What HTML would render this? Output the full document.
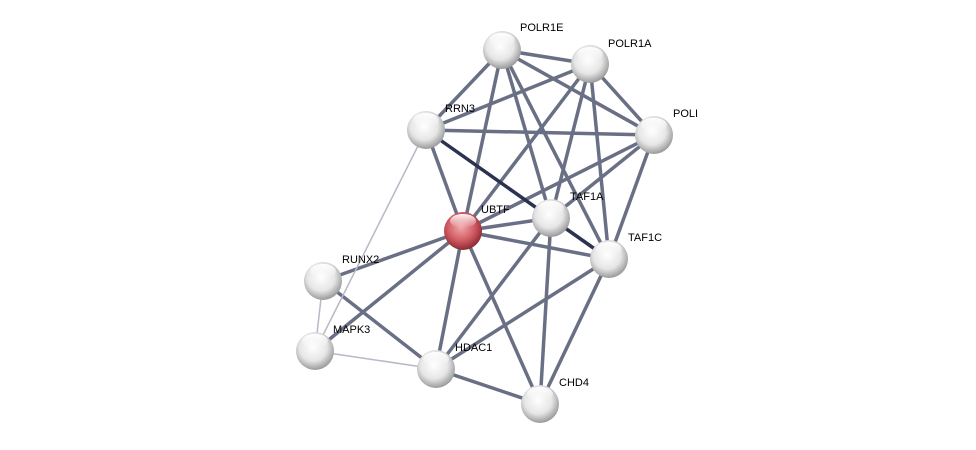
<!DOCTYPE html>
<html><head><meta charset="utf-8"><style>
html,body{margin:0;padding:0;background:#fff;}
svg{display:block;}
text{font-family:"Liberation Sans",Arial,sans-serif;font-size:11px;fill:#000;}
</style></head><body>
<svg width="976" height="450" viewBox="0 0 976 450" xmlns="http://www.w3.org/2000/svg">
<defs>
<radialGradient id="g" cx="45%" cy="40%" r="60%">
<stop offset="0" stop-color="#ffffff"/><stop offset="0.6" stop-color="#e6e6e6"/><stop offset="1" stop-color="#9a9a9a"/>
</radialGradient>
<radialGradient id="r" cx="45%" cy="40%" r="60%">
<stop offset="0" stop-color="#f2a8ac"/><stop offset="0.6" stop-color="#d05a62"/><stop offset="1" stop-color="#8c2a32"/>
</radialGradient>
<linearGradient id="hl" x1="0" y1="0" x2="0" y2="1">
<stop offset="0" stop-color="#fff" stop-opacity="0.95"/><stop offset="1" stop-color="#fff" stop-opacity="0"/>
</linearGradient>
</defs>
<g stroke="#50566f" stroke-width="3.5" stroke-linecap="round" opacity="0.85">
<line x1="502" y1="50" x2="426" y2="130"/>
<line x1="502" y1="50" x2="654" y2="135"/>
<line x1="502" y1="50" x2="463" y2="231"/>
<line x1="502" y1="50" x2="551" y2="218"/>
<line x1="502" y1="50" x2="609" y2="259"/>
<line x1="502" y1="50" x2="590" y2="64"/>
<line x1="590" y1="64" x2="426" y2="130"/>
<line x1="590" y1="64" x2="463" y2="231"/>
<line x1="590" y1="64" x2="551" y2="218"/>
<line x1="590" y1="64" x2="609" y2="259"/>
<line x1="590" y1="64" x2="654" y2="135"/>
<line x1="426" y1="130" x2="654" y2="135"/>
<line x1="426" y1="130" x2="463" y2="231"/>
<line x1="654" y1="135" x2="463" y2="231"/>
<line x1="654" y1="135" x2="551" y2="218"/>
<line x1="654" y1="135" x2="609" y2="259"/>
<line x1="463" y1="231" x2="551" y2="218"/>
<line x1="463" y1="231" x2="609" y2="259"/>
<line x1="463" y1="231" x2="323" y2="281"/>
<line x1="463" y1="231" x2="315" y2="351"/>
<line x1="463" y1="231" x2="436" y2="369"/>
<line x1="463" y1="231" x2="540" y2="404"/>
<line x1="551" y1="218" x2="609" y2="259"/>
<line x1="551" y1="218" x2="436" y2="369"/>
<line x1="551" y1="218" x2="540" y2="404"/>
<line x1="609" y1="259" x2="436" y2="369"/>
<line x1="609" y1="259" x2="540" y2="404"/>
<line x1="323" y1="281" x2="436" y2="369"/>
<line x1="436" y1="369" x2="540" y2="404"/>
</g>
<line x1="426" y1="130" x2="609" y2="259" stroke="#2c3350" stroke-width="3.5"/>
<g stroke="#b8b8c8" stroke-width="1.5">
<line x1="426" y1="130" x2="315" y2="351"/>
<line x1="323" y1="281" x2="315" y2="351"/>
<line x1="315" y1="351" x2="436" y2="369"/>
</g>
<g>
<circle cx="502" cy="50" r="19" fill="url(#g)"/>
<circle cx="590" cy="64" r="19" fill="url(#g)"/>
<circle cx="426" cy="130" r="19" fill="url(#g)"/>
<circle cx="654" cy="135" r="19" fill="url(#g)"/>
<circle cx="463" cy="231" r="19" fill="url(#r)"/>
<circle cx="551" cy="218" r="19" fill="url(#g)"/>
<circle cx="609" cy="259" r="19" fill="url(#g)"/>
<circle cx="323" cy="281" r="19" fill="url(#g)"/>
<circle cx="315" cy="351" r="19" fill="url(#g)"/>
<circle cx="436" cy="369" r="19" fill="url(#g)"/>
<circle cx="540" cy="404" r="19" fill="url(#g)"/>
</g>
<g fill="url(#hl)">
<ellipse cx="502" cy="40" rx="13" ry="7"/>
<ellipse cx="590" cy="54" rx="13" ry="7"/>
<ellipse cx="426" cy="120" rx="13" ry="7"/>
<ellipse cx="654" cy="125" rx="13" ry="7"/>
<ellipse cx="463" cy="221" rx="13" ry="7"/>
<ellipse cx="551" cy="208" rx="13" ry="7"/>
<ellipse cx="609" cy="249" rx="13" ry="7"/>
<ellipse cx="323" cy="271" rx="13" ry="7"/>
<ellipse cx="315" cy="341" rx="13" ry="7"/>
<ellipse cx="436" cy="359" rx="13" ry="7"/>
<ellipse cx="540" cy="394" rx="13" ry="7"/>
</g>
<g>
<text x="520" y="31">POLR1E</text>
<text x="608" y="47">POLR1A</text>
<text x="445" y="112">RRN3</text>
<text x="673" y="117">POLI</text>
<text x="481" y="213">UBTF</text>
<text x="570" y="200">TAF1A</text>
<text x="628" y="241">TAF1C</text>
<text x="342" y="263">RUNX2</text>
<text x="333" y="333">MAPK3</text>
<text x="455" y="351">HDAC1</text>
<text x="559" y="386">CHD4</text>
</g>
</svg>
</body></html>
